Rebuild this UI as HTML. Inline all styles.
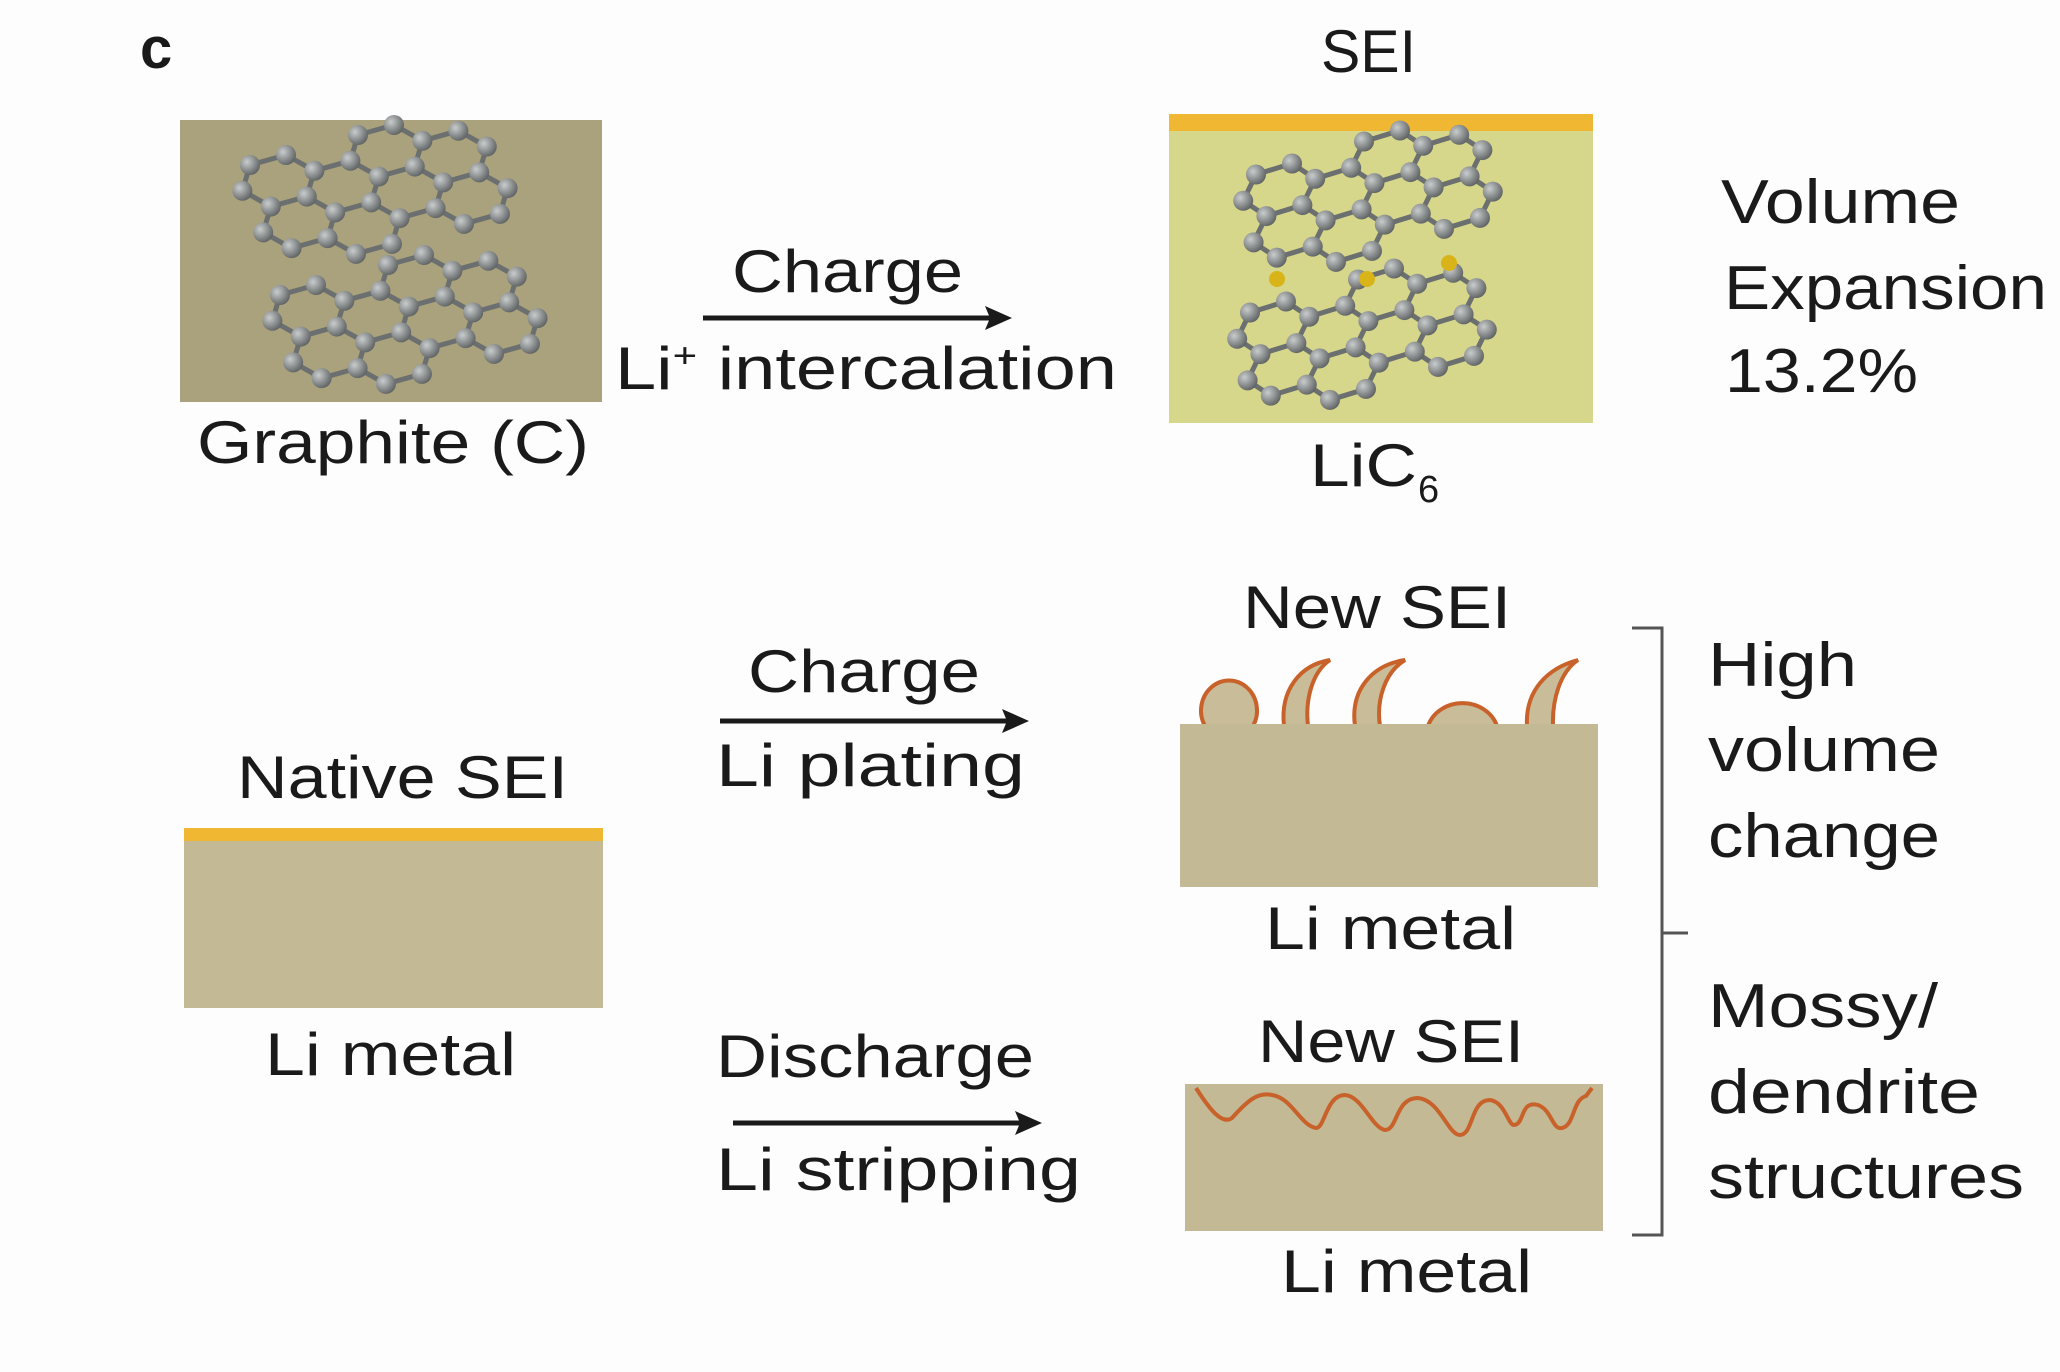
<!DOCTYPE html>
<html><head><meta charset="utf-8"><style>
html,body{margin:0;padding:0;background:#fdfdfd;}
svg{display:block;}
text{font-family:"Liberation Sans",sans-serif;fill:#1a1a1a;}
</style></head><body>
<svg id="s" width="2060" height="1372" viewBox="0 0 2060 1372" xmlns="http://www.w3.org/2000/svg">
<defs>
<radialGradient id="atom" cx="0.35" cy="0.35" r="0.7">
<stop offset="0" stop-color="#c9cccc"/><stop offset="0.6" stop-color="#888c8c"/><stop offset="1" stop-color="#5e6262"/>
</radialGradient>
</defs>
<rect width="2060" height="1372" fill="#fdfdfd"/>
<text x="140" y="68" font-size="58" font-weight="bold">c</text>

<!-- graphite box -->
<rect x="180" y="120" width="422" height="282" fill="#aaa27c"/>
<g id="g1"></g>
<text x="197" y="463" font-size="60" textLength="392" lengthAdjust="spacingAndGlyphs">Graphite (C)</text>

<!-- arrow 1 -->
<text x="732" y="292" font-size="60" textLength="231" lengthAdjust="spacingAndGlyphs">Charge</text>
<line x1="703" y1="318" x2="995" y2="318" stroke="#1a1a1a" stroke-width="5"/>
<polygon points="1012,318 985,306 990,318 985,330" fill="#1a1a1a"/>
<text x="615" y="389" font-size="60" textLength="502" lengthAdjust="spacingAndGlyphs">Li<tspan font-size="34" dy="-22">+</tspan><tspan dy="22"> intercalation</tspan></text>

<!-- LiC6 box -->
<text x="1321" y="72" font-size="60" textLength="95" lengthAdjust="spacingAndGlyphs">SEI</text>
<rect x="1169" y="114" width="424" height="309" fill="#d6d78b"/>
<rect x="1169" y="114" width="424" height="17" fill="#f0b733"/>
<g id="g2"></g>
<circle cx="1277" cy="279" r="8" fill="#d8b418"/>
<circle cx="1367" cy="279" r="8" fill="#d8b418"/>
<circle cx="1449" cy="263" r="8" fill="#d8b418"/>
<text x="1310" y="486" font-size="60" textLength="107" lengthAdjust="spacingAndGlyphs">LiC</text>
<text x="1418" y="502" font-size="38">6</text>

<text x="1721" y="223" font-size="62" textLength="239" lengthAdjust="spacingAndGlyphs">Volume</text>
<text x="1724" y="309" font-size="62" textLength="323" lengthAdjust="spacingAndGlyphs">Expansion</text>
<text x="1725" y="392" font-size="62" textLength="193" lengthAdjust="spacingAndGlyphs">13.2%</text>

<!-- native -->
<text x="237" y="798" font-size="60" textLength="331" lengthAdjust="spacingAndGlyphs">Native SEI</text>
<rect x="184" y="828" width="419" height="180" fill="#c3b994"/>
<rect x="184" y="828" width="419" height="13" fill="#f0b733"/>
<text x="265" y="1075" font-size="60" textLength="251" lengthAdjust="spacingAndGlyphs">Li metal</text>

<!-- charge 2 -->
<text x="748" y="692" font-size="60" textLength="232" lengthAdjust="spacingAndGlyphs">Charge</text>
<line x1="720" y1="721" x2="1012" y2="721" stroke="#1a1a1a" stroke-width="5"/>
<polygon points="1029,721 1002,709 1007,721 1002,733" fill="#1a1a1a"/>
<text x="716" y="786" font-size="60" textLength="309" lengthAdjust="spacingAndGlyphs">Li  plating</text>

<!-- discharge -->
<text x="716" y="1077" font-size="60" textLength="318" lengthAdjust="spacingAndGlyphs">Discharge</text>
<line x1="733" y1="1123" x2="1025" y2="1123" stroke="#1a1a1a" stroke-width="5"/>
<polygon points="1042,1123 1015,1111 1020,1123 1015,1135" fill="#1a1a1a"/>
<text x="716" y="1190" font-size="60" textLength="365" lengthAdjust="spacingAndGlyphs">Li  stripping</text>

<!-- new SEI 1 -->
<text x="1243" y="628" font-size="60" textLength="268" lengthAdjust="spacingAndGlyphs">New SEI</text>
<g fill="#c9bd99" stroke="#c8622a" stroke-width="4">
<path d="M1205,726 A28,30 0 1 1 1253,726"/>
<path d="M1284,726 C1280,690 1300,665 1330,660 C1312,672 1305,700 1308,726 Z"/>
<path d="M1355,726 C1350,690 1372,665 1405,660 C1385,672 1376,700 1380,726 Z"/>
<path d="M1428,726 A36,32 0 0 1 1497,726"/>
<path d="M1527,726 C1525,690 1548,668 1578,660 C1560,672 1552,700 1553,726 Z"/>
</g>
<rect x="1180" y="724" width="418" height="163" fill="#c3b994"/>
<text x="1265" y="949" font-size="60" textLength="251" lengthAdjust="spacingAndGlyphs">Li metal</text>

<!-- new SEI 2 -->
<text x="1258" y="1062" font-size="60" textLength="266" lengthAdjust="spacingAndGlyphs">New SEI</text>
<rect x="1185" y="1084" width="418" height="147" fill="#c3b994"/>
<path d="M1196,1088 C1210,1110 1222,1125 1232,1118 C1248,1100 1258,1092 1272,1095 C1292,1098 1300,1125 1316,1128 C1325,1128 1326,1095 1345,1095 C1362,1096 1372,1128 1385,1130 C1398,1130 1395,1098 1418,1098 C1440,1100 1448,1135 1460,1135 C1474,1134 1470,1100 1490,1100 C1505,1102 1508,1125 1514,1125 C1525,1124 1520,1100 1538,1105 C1552,1110 1552,1130 1562,1128 C1575,1125 1572,1100 1586,1096 L1592,1088"
 fill="none" stroke="#c8622a" stroke-width="4" stroke-linejoin="round"/>
<text x="1281" y="1292" font-size="60" textLength="251" lengthAdjust="spacingAndGlyphs">Li metal</text>

<!-- bracket -->
<path d="M1632,628 L1662,628 L1662,1235 L1632,1235 M1662,933 L1688,933" fill="none" stroke="#555" stroke-width="3"/>
<text x="1708" y="686" font-size="62" textLength="149" lengthAdjust="spacingAndGlyphs">High</text>
<text x="1708" y="771" font-size="62" textLength="232" lengthAdjust="spacingAndGlyphs">volume</text>
<text x="1708" y="857" font-size="62" textLength="232" lengthAdjust="spacingAndGlyphs">change</text>
<text x="1708" y="1027" font-size="62" textLength="230" lengthAdjust="spacingAndGlyphs">Mossy/</text>
<text x="1708" y="1113" font-size="62" textLength="272" lengthAdjust="spacingAndGlyphs">dendrite</text>
<text x="1708" y="1198" font-size="62" textLength="316" lengthAdjust="spacingAndGlyphs">structures</text>
</svg>
<script>
(function(){
var NS="http://www.w3.org/2000/svg";
function sheet(g,ox,oy,cols,rows,m11,m21,m12,m22,r){
 var verts={},edges={};
 function key(u,v){return Math.round(u*100)+","+Math.round(v*100);}
 for(var i=0;i<cols;i++)for(var j=0;j<rows;j++){
  var cu=1+1.5*i, cv=Math.sqrt(3)*(j+0.5+(i%2)/2);
  var pts=[];
  for(var k=0;k<6;k++){var a=Math.PI/3*k;pts.push([cu+Math.cos(a),cv+Math.sin(a)]);}
  for(var k=0;k<6;k++){
   var p=pts[k],q=pts[(k+1)%6];var kp=key(p[0],p[1]),kq=key(q[0],q[1]);
   verts[kp]=p;verts[kq]=q;
   var e=kp<kq?kp+"|"+kq:kq+"|"+kp; edges[e]=[p,q];
  }
 }
 function T(p){return [ox+p[0]*m11+p[1]*m12, oy+p[0]*m21+p[1]*m22];}
 for(var e in edges){var a=T(edges[e][0]),b=T(edges[e][1]);
  var l=document.createElementNS(NS,"line");
  l.setAttribute("x1",a[0]);l.setAttribute("y1",a[1]);l.setAttribute("x2",b[0]);l.setAttribute("y2",b[1]);
  l.setAttribute("stroke","#6b6f6f");l.setAttribute("stroke-width","5");g.appendChild(l);}
 for(var v in verts){var a=T(verts[v]);
  var c=document.createElementNS(NS,"circle");
  c.setAttribute("cx",a[0]);c.setAttribute("cy",a[1]);c.setAttribute("r",r);
  c.setAttribute("fill","url(#atom)");g.appendChild(c);}
}
var g1=document.getElementById("g1"),g2=document.getElementById("g2");
sheet(g1,232,170,4,2,36,-10,12,24,10);
sheet(g1,262,300,4,2,36,-10,12,24,10);
sheet(g2,1238,180,4,2,36,-11,6,24,10);
sheet(g2,1232,318,4,2,36,-11,6,24,10);
})();
</script>
</body></html>
